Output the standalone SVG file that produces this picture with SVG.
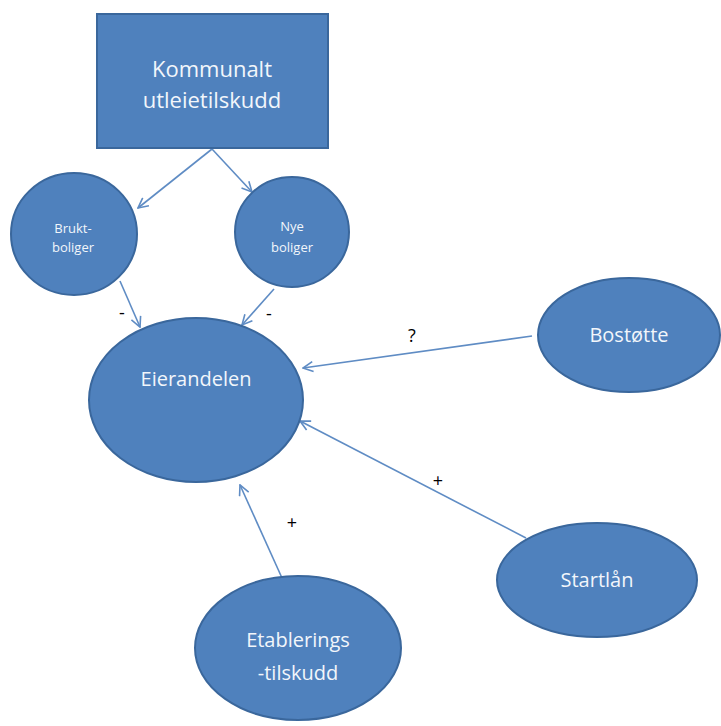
<svg xmlns="http://www.w3.org/2000/svg" width="721" height="726" viewBox="0 0 721 726">
<style>
.n{fill:#4F81BD;stroke:#3A679C;stroke-width:2}
.t{fill:#F2F6FB;font-family:"Open Sans","Liberation Sans",sans-serif;text-anchor:middle}
.c{stroke:#5F8CC4;stroke-width:1.6;fill:none;marker-end:url(#a)}
.l{fill:#000;font-family:"Open Sans","Liberation Sans",sans-serif;font-size:18px;text-anchor:middle}
</style>
<defs>
<marker id="a" viewBox="0 0 12 12" refX="11" refY="6" markerWidth="12" markerHeight="12" markerUnits="userSpaceOnUse" orient="auto">
<path d="M1,1 L11,6 L1,11" fill="none" stroke="#5F8CC4" stroke-width="1.6"/>
</marker>
</defs>
<rect width="721" height="726" fill="#fff"/>
<g id="connectors">
<line class="c" x1="212" y1="149" x2="138" y2="208"/>
<line class="c" x1="212" y1="149" x2="252" y2="192"/>
<line class="c" x1="120" y1="281" x2="140" y2="327"/>
<line class="c" x1="274" y1="289" x2="242" y2="325"/>
<line class="c" x1="532" y1="336" x2="303" y2="368"/>
<line class="c" x1="526" y1="538" x2="300" y2="421"/>
<line class="c" x1="282" y1="578" x2="240" y2="485"/>
<text class="l" x="122" y="319">-</text>
<text class="l" x="269" y="320">-</text>
<text class="l" x="412" y="342">?</text>
<text class="l" x="438" y="487">+</text>
<text class="l" x="292" y="529">+</text>
</g>
<g id="kommunalt">
<rect class="n" x="97" y="14" width="231" height="134"/>
<text class="t" x="212" y="77" font-size="22">Kommunalt</text>
<text class="t" x="212" y="108" font-size="22">utleietilskudd</text>
</g>
<g id="brukt">
<ellipse class="n" cx="74" cy="234" rx="63" ry="61"/>
<text class="t" x="73" y="233" font-size="13">Brukt-</text>
<text class="t" x="73" y="252" font-size="13">boliger</text>
</g>
<g id="nye">
<ellipse class="n" cx="292" cy="232" rx="57" ry="55"/>
<text class="t" x="292" y="231" font-size="13">Nye</text>
<text class="t" x="292" y="252" font-size="13">boliger</text>
</g>
<g id="eierandelen">
<ellipse class="n" cx="196" cy="400" rx="107" ry="82"/>
<text class="t" x="196" y="386" font-size="20">Eierandelen</text>
</g>
<g id="bostotte">
<ellipse class="n" cx="629" cy="335" rx="91" ry="57"/>
<text class="t" x="629" y="342" font-size="20">Bostøtte</text>
</g>
<g id="startlan">
<ellipse class="n" cx="597" cy="580" rx="100" ry="57"/>
<text class="t" x="597" y="587" font-size="20">Startlån</text>
</g>
<g id="etablerings">
<ellipse class="n" cx="298" cy="648" rx="103" ry="72"/>
<text class="t" x="298" y="647" font-size="20">Etablerings</text>
<text class="t" x="298" y="680" font-size="20">-tilskudd</text>
</g>
</svg>
